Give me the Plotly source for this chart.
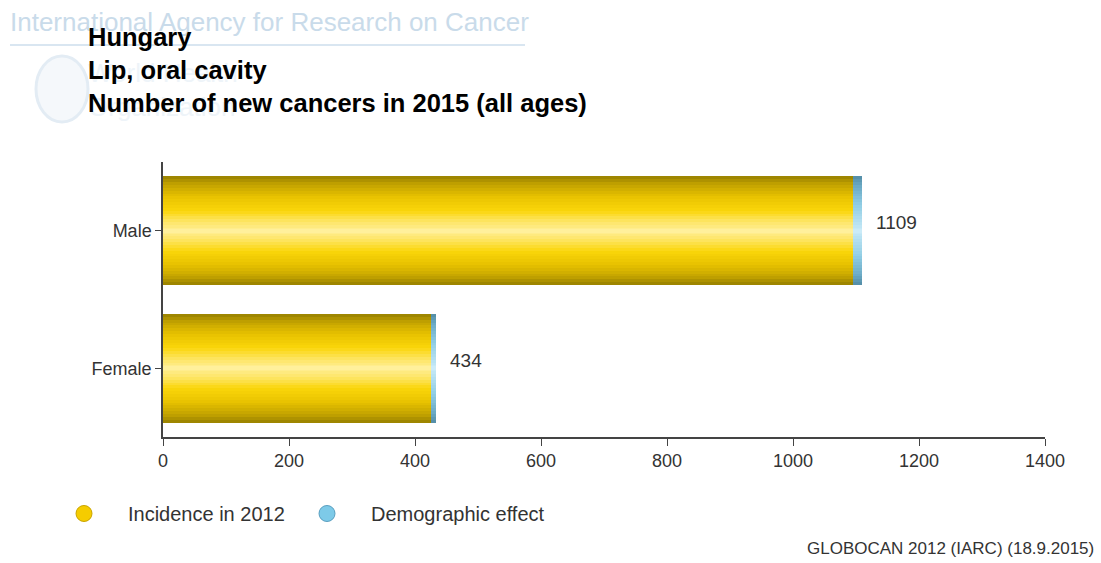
import plotly.graph_objects as go

categories = ["Female", "Male"]
incidence_2012 = [426, 1095]
demographic_effect = [8, 14]
totals = [434, 1109]
x_ticks = [0, 200, 400, 600, 800, 1000, 1200, 1400]

BAR_WIDTH = 0.79
N_LAYERS = 20


def hex_to_rgb(h):
    h = h.lstrip("#")
    return tuple(int(h[i:i + 2], 16) for i in (0, 2, 4))


def ramp(stops, t):
    for (t0, c0), (t1, c1) in zip(stops, stops[1:]):
        if t0 <= t <= t1:
            f = (t - t0) / (t1 - t0) if t1 > t0 else 0
            a, b = hex_to_rgb(c0), hex_to_rgb(c1)
            return "rgb(%d,%d,%d)" % tuple(round(a[i] + (b[i] - a[i]) * f) for i in range(3))
    return stops[-1][1]


yellow_stops = [(0.0, "#fff09c"), (0.18, "#fee66a"), (0.4, "#fad60a"), (0.65, "#e8c200"),
                (0.88, "#c2a200"), (1.0, "#9e8600")]
blue_stops = [(0.0, "#cbebf8"), (0.5, "#90cde4"), (0.85, "#6aa9c4"), (1.0, "#5690aa")]

fig = go.Figure()
for k in range(N_LAYERS):
    t = 1 - k / (N_LAYERS - 1)
    w = BAR_WIDTH * max(t, 0.04)
    fig.add_trace(go.Bar(y=categories, x=incidence_2012, orientation="h", width=w,
                         marker=dict(color=ramp(yellow_stops, t), line=dict(width=0)),
                         showlegend=False, hoverinfo="skip"))
for k in range(N_LAYERS):
    t = 1 - k / (N_LAYERS - 1)
    w = BAR_WIDTH * max(t, 0.04)
    fig.add_trace(go.Bar(y=categories, x=demographic_effect, base=incidence_2012,
                         orientation="h", width=w,
                         marker=dict(color=ramp(blue_stops, t), line=dict(width=0)),
                         showlegend=False, hoverinfo="skip"))

# legend entries (two legends so each can be placed independently)
fig.add_trace(go.Scatter(x=[None], y=[None], mode="markers", name="Incidence in 2012",
                         legend="legend",
                         marker=dict(symbol="circle", size=19, color="#f5cc00",
                                     line=dict(color="#c9a400", width=1))))
fig.add_trace(go.Scatter(x=[None], y=[None], mode="markers", name="Demographic effect",
                         legend="legend2",
                         marker=dict(symbol="circle", size=19, color="#7dcae8",
                                     line=dict(color="#5a9fc0", width=1))))

for cat, t in zip(categories, totals):
    fig.add_annotation(x=t, y=cat, text=str(t), showarrow=False, xanchor="left",
                       xshift=12, yshift=8, font=dict(family="Arial", size=19, color="#333333"))

# faint watermark (IARC / WHO logo)
fig.add_annotation(xref="paper", yref="paper", x=(8 - 163) / 882, y=1 + (162 - 22) / 275,
                   text="International Agency for Research on Cancer", showarrow=False,
                   xanchor="left", yanchor="middle",
                   font=dict(family="Arial", size=26, color="#c9dbea"))
fig.add_shape(type="line", xref="paper", yref="paper", x0=(10 - 163) / 882, x1=(525 - 163) / 882,
              y0=1 + (162 - 45) / 275, y1=1 + (162 - 45) / 275,
              line=dict(color="#d9e6f1", width=2))
fig.add_annotation(xref="paper", yref="paper", x=(86 - 163) / 882, y=1 + (162 - 90) / 275,
                   text="World Health<br>Organization", showarrow=False, xanchor="left",
                   yanchor="middle", align="left",
                   font=dict(family="Arial", size=26, color="#eef4f9"))
fig.add_shape(type="circle", xref="paper", yref="paper",
              x0=(36 - 163) / 882, x1=(88 - 163) / 882,
              y0=1 + (162 - 122) / 275, y1=1 + (162 - 56) / 275,
              line=dict(color="#e3ecf4", width=3), fillcolor="#f5f8fb", layer="below")

# title
fig.add_annotation(xref="paper", yref="paper", x=(86 - 163) / 882, y=1 + (162 - 70) / 275,
                   text="<b>Hungary<br>Lip, oral cavity<br>Number of new cancers in 2015 (all ages)</b>",
                   showarrow=False, xanchor="left", yanchor="middle", align="left",
                   font=dict(family="Arial", size=25.5, color="#000000"))

# footer
fig.add_annotation(xref="paper", yref="paper", x=(1096 - 163) / 882, y=-(548 - 437) / 275,
                   text="GLOBOCAN 2012 (IARC) (18.9.2015)", showarrow=False,
                   xanchor="right", yanchor="middle",
                   font=dict(family="Arial", size=17, color="#333333"))

legend_style = dict(orientation="h", xref="container", yref="container",
                    y=1 - 494 / 563, xanchor="left", yanchor="top",
                    font=dict(family="Arial", size=20, color="#333333"), itemwidth=78,
                    bgcolor="rgba(0,0,0,0)")

fig.update_layout(
    width=1101, height=563,
    margin=dict(l=163, r=56, t=162, b=126),
    barmode="overlay",
    bargap=0,
    paper_bgcolor="white", plot_bgcolor="white",
    font=dict(family="Arial", color="#333333"),
    xaxis=dict(range=[0, 1400], tickvals=x_ticks, ticktext=[str(v) for v in x_ticks],
               showgrid=False, zeroline=False, showline=True, linecolor="#444444",
               linewidth=1.5, ticks="outside", ticklen=7, tickcolor="#444444",
               tickfont=dict(size=18, color="#333333")),
    yaxis=dict(range=[-0.5, 1.5], showgrid=False, zeroline=False, showline=True,
               linecolor="#444444", linewidth=1.5, ticks="outside", ticklen=6,
               tickcolor="#444444", tickfont=dict(size=18, color="#333333")),
    legend=dict(x=40 / 1101, **legend_style),
    legend2=dict(x=283 / 1101, **legend_style),
    showlegend=True,
)

fig.write_html("out.html")
